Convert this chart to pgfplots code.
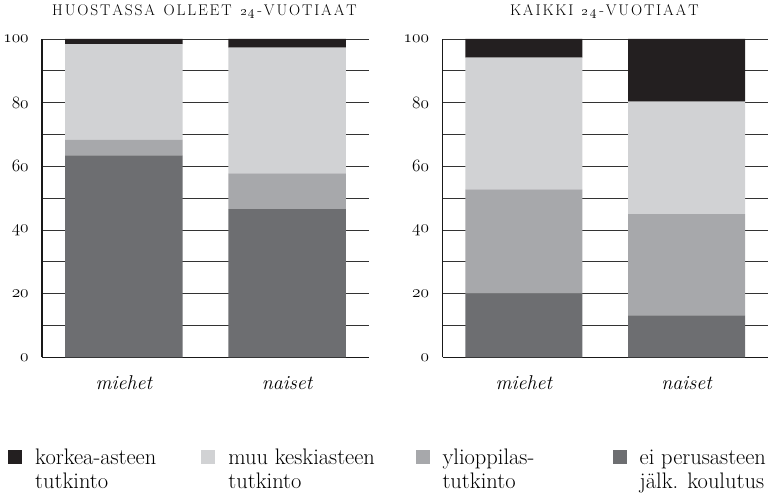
\documentclass[border=0pt]{standalone}
\usepackage{pgfplots}
\pgfplotsset{compat=1.18}
\definecolor{ckork}{HTML}{231F20}
\definecolor{cmuu}{HTML}{D1D2D4}
\definecolor{cyl}{HTML}{A7A8AB}
\definecolor{cei}{HTML}{6D6E71}
\def\ls#1{\lsA#1\relax}
\def\lsA#1{\ifx#1\relax\else#1\kern0.12em\expandafter\lsA\fi}
\newcommand\lentry[3]{\makebox[#1][l]{\begin{tabular}[t]{@{}l@{}}#2\\#3\end{tabular}}}
\pgfplotsset{
  mybars/.style={
    scale only axis, width=327pt, height=319pt,
    ybar stacked, bar width=0.72,
    xmin=-0.5, xmax=1.5, ymin=0, ymax=100,
    xtick={0,1}, xticklabels={miehet,naiset},
    xticklabel style={font=\fontsize{20}{22}\selectfont\itshape, anchor=base, yshift=-32pt},
    ytick={0,20,40,60,80,100}, minor ytick={10,30,50,70,90},
    yticklabel={$\mathnormal{\pgfmathprintnumber{\tick}}$},
    yticklabel style={font=\fontsize{17.28}{18}\selectfont, xshift=-10pt},
    ymajorgrids, yminorgrids,
    major grid style={black!80, line width=0.8pt},
    minor grid style={black!80, line width=0.8pt},
    axis x line*=bottom, axis y line*=left,
    axis line style={line width=1.8pt, black!90, -},
    major tick length=0pt, minor tick length=0pt,
    title style={font=\fontsize{15.5}{17}\selectfont, anchor=base, at={(0.5,1)}, yshift=17pt},
    every axis plot/.append style={draw=none},
    legend image code/.code={\fill[#1, draw=none] (0pt,0pt) rectangle (14pt,14pt);},
  }
}
\begin{document}
\begin{tikzpicture}
\path (0pt,0pt) rectangle (773pt,494pt);
\begin{axis}[mybars, at={(41pt,136pt)}, anchor=south west,
  title={\ls{HUOSTASSA~OLLEET~}\oldstylenums{2}\kern0.12em\oldstylenums{4}\kern0.12em\ls{-VUOTIAAT}},
  legend columns=4,
  legend style={at={(-0.104,-0.277)}, anchor=north west, draw=none, fill=none, inner sep=0pt, outer sep=0pt,
    font=\fontsize{22.5}{24}\selectfont,
    cells={anchor=base west, inner sep=0pt, outer sep=0pt},
    /tikz/every odd column/.append style={column sep=11pt},
    /tikz/every even column/.append style={column sep=6.5pt}},
]
\addlegendimage{fill=ckork}\addlegendentry{\lentry{158pt}{korkea-asteen}{tutkinto}}
\addlegendimage{fill=cmuu}\addlegendentry{\lentry{179pt}{muu keskiasteen}{tutkinto}}
\addlegendimage{fill=cyl}\addlegendentry{\lentry{162pt}{ylioppilas-}{tutkinto}}
\addlegendimage{fill=cei}\addlegendentry{\lentry{10pt}{ei perusasteen}{jälk. koulutus}}
\addplot[fill=cei] coordinates {(0,63.4) (1,46.6)};
\addplot[fill=cyl] coordinates {(0,5.0) (1,11.2)};
\addplot[fill=cmuu] coordinates {(0,30.0) (1,39.5)};
\addplot[fill=ckork] coordinates {(0,1.6) (1,2.7)};
\end{axis}
\begin{axis}[mybars, at={(442pt,136pt)}, anchor=south west, width=326pt,
  title={\ls{KAIKKI~}\oldstylenums{2}\kern0.12em\oldstylenums{4}\kern0.12em\ls{-VUOTIAAT}},
]
\addplot[fill=cei] coordinates {(0,20.0) (1,13.2)};
\addplot[fill=cyl] coordinates {(0,32.8) (1,31.8)};
\addplot[fill=cmuu] coordinates {(0,41.3) (1,35.3)};
\addplot[fill=ckork] coordinates {(0,5.9) (1,19.7)};
\end{axis}
\end{tikzpicture}
\end{document}
